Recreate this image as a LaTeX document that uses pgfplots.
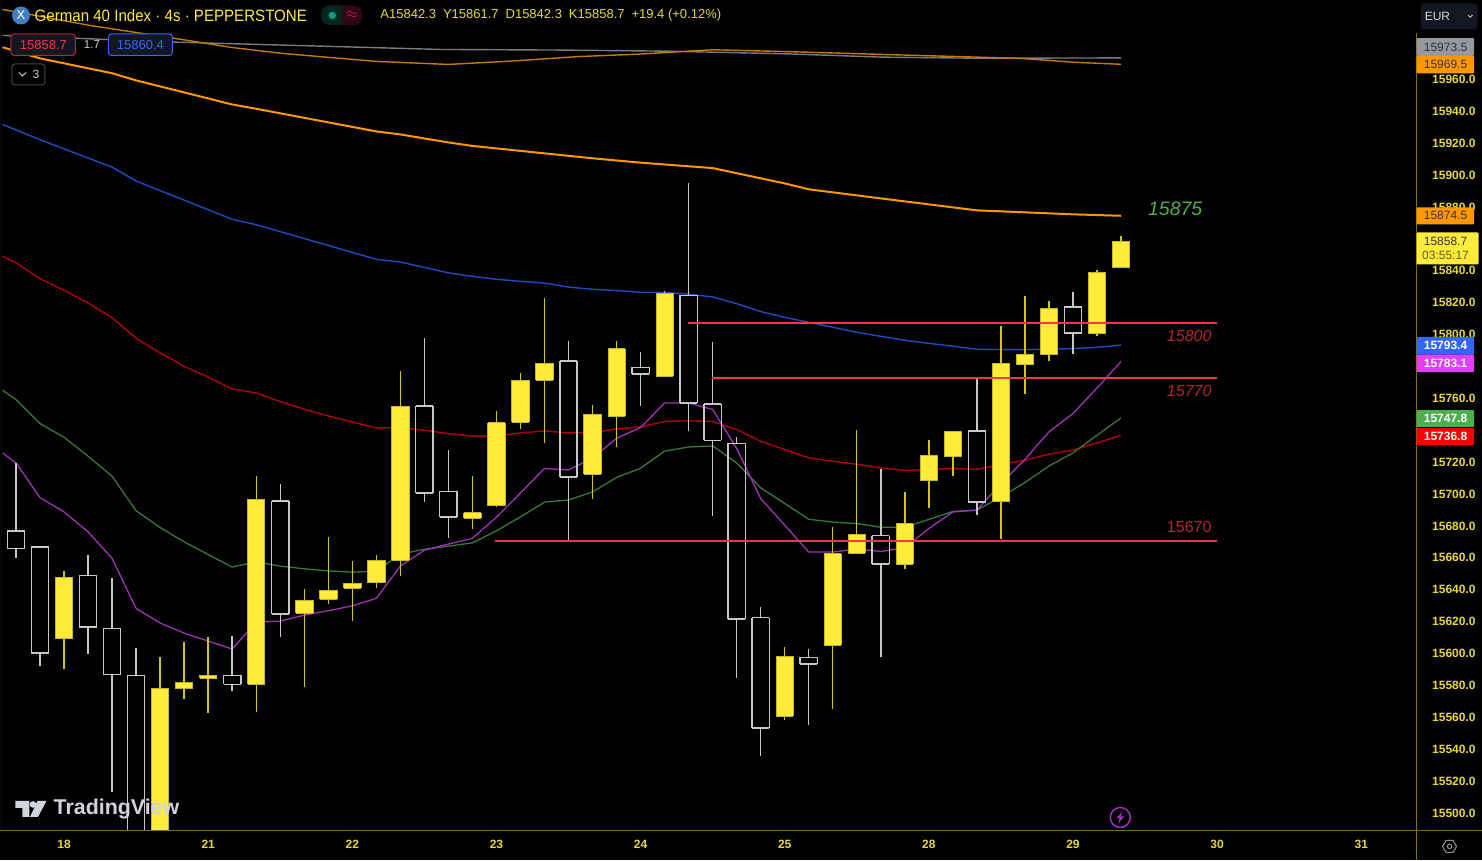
\documentclass[border=0pt]{standalone}
\usepackage{pgfplots}
\pgfplotsset{compat=1.18}
\usepackage{pgfplotstable}
\usepackage{graphicx}
\usepackage{fontspec}
\setmainfont{Liberation Sans}
\definecolor{cyel}{HTML}{FFEB3B}
\definecolor{cyelb}{HTML}{C4B52A}
\definecolor{cyelw}{HTML}{D6C600}
\definecolor{cwhi}{HTML}{C8C8C8}
\definecolor{cpur}{HTML}{A030B8}
\definecolor{cgrn}{HTML}{357A38}
\definecolor{cred}{HTML}{B00010}
\definecolor{cblu}{HTML}{1C4CC4}
\definecolor{corg}{HTML}{FF9800}
\definecolor{corgt}{HTML}{C87A00}
\definecolor{cgry}{HTML}{787B86}
\definecolor{clvl}{HTML}{F23645}
\definecolor{cax}{HTML}{7D7016}
\definecolor{ctick}{HTML}{E6D832}
\definecolor{cpanel}{HTML}{131722}
\definecolor{HTMLg}{HTML}{4CAF50}
\definecolor{levelc}{HTML}{B5252F}
\definecolor{HTMLgy}{HTML}{9598A1}
\definecolor{HTMLb}{HTML}{3366FF}
\definecolor{HTMLm}{HTML}{E040FB}
\definecolor{HTMLt}{HTML}{3F7FC4}
\definecolor{HTMLtl}{HTML}{089981}
\definecolor{HTMLrb}{HTML}{B22833}
\definecolor{HTMLtv}{HTML}{D1D4DC}
\definecolor{HTMLpk}{HTML}{E91E63}
\pgfplotstableread{
i top bot high low
2 15647.9 15609.5 15651.8 15590.4
6 15577.9 15430 15597.9 15420
7 15581.9 15577.9 15607.3 15571.6
8 15586.5 15584.4 15610.5 15562.9
10 15696.6 15580.6 15711.6 15563.5
12 15633.5 15625.1 15640.2 15578.8
13 15639.6 15633.9 15672.8 15631.0
14 15644.0 15641.0 15657.7 15620.5
15 15658.4 15644.3 15661.7 15641.0
16 15755.2 15658.7 15777.0 15648.5
19 15688.4 15684.9 15711.4 15677.8
20 15744.8 15692.8 15751.9 15692.0
21 15771.5 15745.0 15775.6 15740.5
22 15782.2 15771.4 15823.2 15732.1
24 15750.0 15712.4 15755.9 15696.6
25 15791.2 15749.0 15796.0 15729.5
27 15826.1 15773.9 15827.3 15773.1
32 15598.2 15560.6 15604.2 15558.5
34 15662.5 15605.1 15679.2 15565.0
35 15674.7 15662.8 15740.2 15662.8
37 15681.3 15656.0 15701.0 15652.7
38 15724.5 15708.5 15733.8 15691.3
39 15739.0 15723.5 15739.6 15711.0
41 15782.2 15695.5 15805.6 15671.7
42 15787.5 15781.2 15824.0 15762.8
43 15816.7 15787.7 15820.9 15783.3
45 15839.2 15800.8 15840.5 15799.4
46 15858.7 15842.3 15861.7 15842.3
}\yellowcandles
\pgfplotstableread{
i top bot high low
0 15676.7 15665.9 15719.5 15659.6
1 15666.9 15600.4 15666.9 15592.3
3 15649.1 15616.7 15661.7 15599.6
4 15615.7 15586.7 15647.1 15513.3
5 15586.3 15450 15603.2 15440
9 15586.3 15580.6 15611.1 15576.6
11 15695.7 15624.7 15706.2 15610.1
17 15755.2 15700.7 15797.9 15695.3
18 15701.6 15685.7 15727.9 15672.5
23 15783.4 15710.6 15795.8 15670.6
26 15779.5 15775.3 15789.3 15755.1
28 15824.6 15757.1 15894.8 15739.8
29 15756.5 15733.6 15795.2 15686.3
30 15731.7 15621.6 15735.8 15584.8
31 15622.4 15553.4 15628.9 15535.7
33 15597.6 15593.4 15602.8 15555.3
36 15674.0 15656.2 15716.0 15597.8
40 15739.6 15694.9 15772.6 15686.9
44 15817.3 15801.0 15826.7 15787.7
}\whitecandles
\newcommand{\vedge}[5]{% table, x expr, color, width, column
 \addplot[forget plot,draw=none,mark=none,error bars/.cd,y dir=minus,y explicit,error mark=none,
   error bar style={draw=#3,line width=#4,solid}]
   table[x expr=#2,y=#5,y error minus expr=\thisrow{top}-\thisrow{bot}]{#1};}
\newcommand{\wicks}[3]{%
 \addplot[forget plot,draw=none,mark=none,error bars/.cd,y dir=plus,y explicit,error mark=none,
   error bar style={draw=#2,line width=#3,solid}]
   table[x=i,y=top,y error plus expr=\thisrow{high}-\thisrow{top}]{#1};
 \addplot[forget plot,draw=none,mark=none,error bars/.cd,y dir=minus,y explicit,error mark=none,
   error bar style={draw=#2,line width=#3,solid}]
   table[x=i,y=bot,y error minus expr=\thisrow{bot}-\thisrow{low}]{#1};}
\newcommand{\hedge}[4]{% table, column, color, width
 \addplot[forget plot,draw=none,mark=none,error bars/.cd,x dir=both,x fixed=0.36,error mark=none,
   error bar style={draw=#3,line width=#4,solid}]
   table[x=i,y=#2]{#1};}
\newcommand{\coutline}[3]{%
 \vedge{#1}{\thisrow{i}-0.36}{#2}{#3}{top}
 \vedge{#1}{\thisrow{i}+0.36}{#2}{#3}{top}
 \hedge{#1}{top}{#2}{#3}
 \hedge{#1}{bot}{#2}{#3}}
\newcommand{\ptag}[6]{% y1,y2,fill,textcolor,text,xright
 \fill[#3,rounded corners=1pt] (1417,#1) rectangle (#6,#2);
 \node[text=#4,inner sep=0pt,font=\fontsize{12}{14}\selectfont] at (1446,{(#1+#2)/2}) {#5};}
\begin{document}
\begin{tikzpicture}
\fill[black] (0pt,0pt) rectangle (1482pt,860pt);
\begin{axis}[
 at={(2pt,29pt)},anchor=south west,scale only axis,width=1415pt,height=831pt,
 xmin=-0.5616,xmax=58.3,ymin=15488.73,ymax=16009.5,
 axis x line*=bottom,axis y line*=right,
 axis line style={draw=cax,line width=1pt},
 major tick length=0pt,
 xtick={2,8,14,20,26,32,38,44,50,56},
 xticklabels={18,21,22,23,24,25,28,29,30,31},
 ytick={15500,15520,15540,15560,15580,15600,15620,15640,15660,15680,15700,15720,15760,15800,15820,15840,15880,15900,15920,15940,15960},
 scaled y ticks=false,scaled x ticks=false,
 /pgf/number format/fixed,/pgf/number format/fixed zerofill,/pgf/number format/precision=1,
 /pgf/number format/1000 sep={},/pgf/number format/assume math mode=true,
 ticklabel style={text=ctick,font=\fontsize{12}{14}\selectfont\bfseries},
 xticklabel style={anchor=center,yshift=-13pt,inner sep=0pt},
 yticklabel style={anchor=west,xshift=15.5pt,inner sep=0pt},
]
% moving averages
\addplot[forget plot,cgry,line width=1.4pt] coordinates {(-0.56,15987.6)(6.6,15983.4)(17.66,15978.8)(22.8,15978.4)(27.2,15977.7)(32.2,15976)(36,15974)(40,15973.3)(46,15973.5)};
\addplot[forget plot,corgt,line width=1.4pt] coordinates {(-0.56,16003.9)(3.1,15993.8)(6.63,15985.7)(9,15980)(11.1,15976.3)(15,15971.3)(18,15969.4)(20.6,15971.5)(23.5,15974.4)(25.85,15975.8)(29,15978.6)(32.2,15977.4)(36,15975.7)(40,15974)(41.8,15973.2)(44,15970.8)(46,15969.5)};
\addplot[forget plot,corg,line width=2pt] coordinates {(-0.56,15980.2)(1,15973.2)(4,15963.9)(5,15959.4)(9,15944.3)(10,15941.6)(15,15927.4)(16,15925.5)(18,15920.5)(19,15918.3)(23.9,15910.7)(26,15907.8)(29,15904.4)(32,15894.8)(33,15891.1)(36,15885.4)(40,15877.9)(44,15875.4)(46,15874.5)};
\addplot[forget plot,cblu,line width=1.4pt] coordinates {(-0.56,15931.8)(1,15922.2)(4,15905)(5,15896.3)(9,15872.3)(10,15868.9)(15,15847.2)(16,15845.5)(18,15838.7)(19,15836.5)(20,15834.7)(21,15833.4)(22,15832.3)(23,15829.8)(24,15828.4)(25,15827.6)(26,15826.5)(27,15826.5)(28,15825.3)(29,15823.6)(30,15819.4)(31,15814.4)(32,15810.8)(33,15807.7)(34,15804.6)(35,15801.4)(36,15798.9)(37,15796.4)(38,15794.5)(39,15792.7)(40,15790.8)(41,15790.6)(42,15790.6)(43,15790.8)(44,15791.2)(45,15792)(46,15793.4)};
\addplot[forget plot,cred,line width=1.4pt] coordinates {(-0.56,15849.1)(0,15845.1)(1,15835.1)(2,15827.8)(3,15819.8)(4,15810.6)(5,15797.7)(6,15788.5)(7,15780.1)(8,15773.4)(9,15765.9)(10,15763.4)(11,15758)(12,15753.2)(13,15749)(14,15745.2)(15,15741.5)(16,15741.6)(17,15740)(18,15737.9)(19,15736.3)(20,15736.4)(21,15738.3)(22,15739.6)(23,15738.3)(24,15738.6)(25,15740.8)(26,15742.1)(27,15745.5)(28,15745.9)(29,15745.5)(30,15740.5)(31,15733.1)(32,15727.9)(33,15722.7)(34,15720.6)(35,15718.7)(36,15716.4)(37,15714.8)(38,15715.4)(39,15716)(40,15715.4)(41,15718.5)(42,15721.2)(43,15725)(44,15727.5)(45,15732.1)(46,15736.8)};
\addplot[forget plot,cgrn,line width=1.3pt] coordinates {(-0.56,15765.1)(0,15759.3)(1,15744.2)(2,15735.6)(3,15723.7)(4,15711.2)(5,15689.5)(6,15679)(7,15670)(8,15662.1)(9,15654.2)(10,15657.5)(11,15654.8)(12,15653.1)(13,15651.8)(14,15651)(15,15651.7)(16,15662.3)(17,15665.4)(18,15667.3)(19,15669.4)(20,15676.9)(21,15685.7)(22,15694.9)(23,15696.3)(24,15701.3)(25,15710.4)(26,15716.2)(27,15726.9)(28,15729.5)(29,15730.2)(30,15719.5)(31,15703.9)(32,15694.1)(33,15684.2)(34,15682.4)(35,15681.5)(36,15679.2)(37,15679.2)(38,15684.1)(39,15689.1)(40,15689.9)(41,15698.2)(42,15707.2)(43,15717.6)(44,15725.8)(45,15736.9)(46,15747.8)};
\addplot[forget plot,cpur,line width=1.3pt] coordinates {(-0.56,15725.8)(0,15719.5)(1,15697.8)(2,15688.8)(3,15676.3)(4,15659.6)(5,15628.3)(6,15619.1)(7,15612.8)(8,15607.8)(9,15602.8)(10,15619.7)(11,15620.3)(12,15624.1)(13,15626.8)(14,15629.9)(15,15634.6)(16,15654.8)(17,15664.8)(18,15668.6)(19,15672.3)(20,15685.5)(21,15700.7)(22,15716)(23,15715.1)(24,15722.5)(25,15735)(26,15741.7)(27,15757.1)(28,15757.1)(29,15753)(30,15728.6)(31,15697.2)(32,15680.5)(33,15663.6)(34,15663.6)(35,15665.5)(36,15664)(37,15666.3)(38,15678.4)(39,15688.8)(40,15689.9)(41,15706.6)(42,15721.7)(43,15739)(44,15750.5)(45,15766.5)(46,15783.1)};
% candles
\wicks{\whitecandles}{cwhi}{1.4pt}
\coutline{\whitecandles}{cwhi}{1.4pt}
\wicks{\yellowcandles}{cyelw}{1.4pt}
\vedge{\yellowcandles}{\thisrow{i}}{cyel}{17.3pt}{top}
\coutline{\yellowcandles}{cyelb}{0.8pt}
% levels
\addplot[forget plot,clvl,line width=1.9pt] coordinates {(27.97,15807.4)(50,15807.4)};
\addplot[forget plot,clvl,line width=1.9pt] coordinates {(28.97,15772.9)(50,15772.9)};
\addplot[forget plot,clvl,line width=1.9pt] coordinates {(19.95,15670.5)(50,15670.5)};
\end{axis}
\begin{scope}[x=1pt,y=-1pt,shift={(0pt,860pt)}]
% frame
\fill[black!75!cpanel] (0,0) rectangle (2,831);
\draw[cax,line width=1pt] (0,831) -- (1482,831);
\draw[cax,line width=1pt] (1417,831) -- (1417,860);
\fill[black] (1416.4,0) rectangle (1482,33);
% level captions
\node[text=HTMLg,inner sep=0pt,font=\fontsize{19.5}{24}\selectfont\itshape] at (1175.5,208) {15875};
\node[text=levelc,inner sep=0pt,font=\fontsize{16}{18}\selectfont\itshape] at (1189.5,336) {15800};
\node[text=levelc,inner sep=0pt,font=\fontsize{16}{18}\selectfont\itshape] at (1189.5,391) {15770};
\node[text=levelc,inner sep=0pt,font=\fontsize{16}{18}\selectfont] at (1189.5,527) {15670};
% price tags
\ptag{37.7}{55.3}{HTMLgy}{black!80}{15973.5}{1474.7}
\ptag{55.3}{73}{corg}{black!80}{15969.5}{1474.7}
\ptag{207}{224}{corg}{black!80}{15874.5}{1474.7}
\fill[cyel,rounded corners=1pt] (1417,232) rectangle (1479,264);
\node[text=black!80,inner sep=0pt,font=\fontsize{12}{14}\selectfont] at (1446,241) {15858.7};
\node[text=black!60!cyel,inner sep=0pt,font=\fontsize{12}{14}\selectfont] at (1446,255.5) {03:55:17};
\ptag{336.7}{354.3}{HTMLb}{white}{\bfseries 15793.4}{1474.7}
\ptag{354.3}{372}{HTMLm}{white}{\bfseries 15783.1}{1474.7}
\ptag{410}{426.7}{HTMLg}{white}{\bfseries 15747.8}{1474.7}
\ptag{427.7}{444.7}{red}{white}{\bfseries 15736.8}{1474.7}
% currency box
\fill[cpanel,rounded corners=3pt] (1421,3) rectangle (1478,29);
\node[anchor=west,text=white!85!black,inner sep=0pt,font=\fontsize{12}{14}\selectfont] at (1425,15.5) {EUR};
\draw[white!75!black,line width=.9pt] (1468.5,14.5) -- (1470.8,16.8) -- (1473.1,14.5);
% header
\fill[HTMLt] (20.5,15) circle (9);
\node[text=white,inner sep=0pt,font=\fontsize{13}{14}\selectfont] at (20.5,15) {X};
\node[anchor=west,text=cyel,inner sep=0pt,font=\fontsize{16.5}{18}\selectfont] at (34,15) {\scalebox{.915}[1]{German 40 Index · 4s · PEPPERSTONE}};
\fill[black!80!HTMLpk,rounded corners=8pt] (321,5) rectangle (362,24.5);
\begin{scope}
\clip (321,0) rectangle (342,30);
\fill[black!75!HTMLtl,rounded corners=8pt] (321,5) rectangle (362,24.5);
\end{scope}
\fill[HTMLtl] (332,15) circle (3.8);
\node[text=HTMLpk,inner sep=0pt,font=\fontsize{14}{14}\selectfont\bfseries] at (351.5,15) {\(\approx\)};
\node[anchor=west,text=ctick,inner sep=0pt,font=\fontsize{13}{14}\selectfont] at (380,15) {A15842.3\hspace{7pt}Y15861.7\hspace{7pt}D15842.3\hspace{7pt}K15858.7\hspace{7pt}+19.4 (+0.12\%)};
% bid/ask boxes
\draw[fill=cpanel,draw=HTMLrb,line width=1pt,rounded corners=3pt] (10.5,33.5) rectangle (75,55);
\node[text=clvl,inner sep=0pt,font=\fontsize{13}{14}\selectfont] at (43,44.5) {15858.7};
\node[text=white!80!black,inner sep=0pt,font=\fontsize{11.5}{14}\selectfont] at (91.5,44) {1.7};
\draw[fill=cpanel,draw=HTMLb,line width=1pt,rounded corners=3pt] (108,33.5) rectangle (172,55);
\node[text=HTMLb,inner sep=0pt,font=\fontsize{13}{14}\selectfont] at (140,44.5) {15860.4};
\draw[fill=black,draw=cpanel!80!white,line width=1pt,rounded corners=3pt] (11.5,63.5) rectangle (44.5,84.5);
\draw[white!80!black,line width=.9pt] (18.5,72) -- (22,75.5) -- (25.5,72);
\node[text=white!80!black,inner sep=0pt,font=\fontsize{12}{14}\selectfont] at (35.5,74) {3};
% TradingView mark
\fill[HTMLtv] (15,801) -- (29,801) -- (29,817) -- (22,817) -- (22,808) -- (15,808) -- cycle;
\fill[HTMLtv] (32.5,804.5) circle (3.3);
\fill[HTMLtv] (37,801) -- (46,801) -- (37.5,817) -- (29.5,817) -- cycle;
\node[anchor=west,text=HTMLtv,inner sep=0pt,font=\fontsize{21.4}{24}\selectfont\bfseries] at (53,809) {TradingView};
% lightning
\draw[cpur,line width=1.5pt] (1120.5,817.5) circle (10);
\fill[cpur] (1123,811) -- (1116.5,818.5) -- (1120,818.5) -- (1118,824) -- (1124.5,816.5) -- (1121,816.5) -- cycle;
% settings
\draw[white!55!black,line width=1.1pt] (1443,846.5) -- (1446.5,840.5) -- (1453.5,840.5) -- (1457,846.5) -- (1453.5,852.5) -- (1446.5,852.5) -- cycle;
\draw[white!55!black,line width=1.1pt] (1450,846.5) circle (2.2);
\end{scope}
\end{tikzpicture}
\end{document}
